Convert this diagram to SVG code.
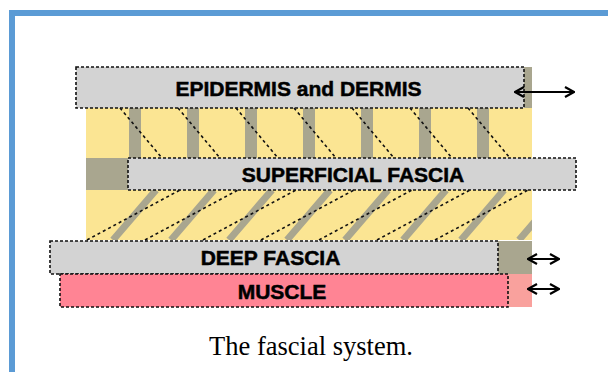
<svg xmlns="http://www.w3.org/2000/svg" width="608" height="372" viewBox="0 0 608 372">
<defs>
<style>
.box{fill:#d3d3d3;stroke:#111;stroke-width:1.6;stroke-dasharray:3 2}
.mus{fill:#ff8494;stroke:#111;stroke-width:1.6;stroke-dasharray:3 2}
.taupe{fill:#a9a68f}
.lbl{font-family:"Liberation Sans",Arial,sans-serif;font-weight:bold;font-size:21px;fill:#000;stroke:#000;stroke-width:0.5;text-anchor:middle}
.dl{stroke:#111;stroke-width:1.6;stroke-dasharray:3 3;fill:none}
.bar{stroke:#a9a68f;stroke-width:7}
.arr{stroke:#000;stroke-width:2;fill:none}
</style>
<marker id="ah" viewBox="0 0 12 12" refX="11" refY="6" markerWidth="12" markerHeight="12" markerUnits="userSpaceOnUse" orient="auto-start-reverse">
<path d="M2,1 L11,6 L2,11" fill="none" stroke="#000" stroke-width="2.2"/>
</marker>
<clipPath id="clipLow"><rect x="86" y="190" width="446" height="50"/></clipPath>
</defs>
<rect x="0" y="0" width="608" height="372" fill="#fff"/>
<rect x="12" y="13" width="620" height="400" fill="none" stroke="#5b9bd5" stroke-width="6"/>

<g id="subcutis">
<rect x="86" y="108" width="446" height="132" fill="#fbe593"/>
<g class="taupe">
<rect x="129" y="108" width="12" height="50"/>
<rect x="187" y="108" width="12" height="50"/>
<rect x="245" y="108" width="12" height="50"/>
<rect x="303" y="108" width="12" height="50"/>
<rect x="361" y="108" width="12" height="50"/>
<rect x="419" y="108" width="12" height="50"/>
<rect x="477" y="108" width="12" height="50"/>
</g>
<g clip-path="url(#clipLow)">
<path class="bar" d="M156,190 L113,240 M214,190 L171,240 M272,190 L229,240 M330,190 L287,240 M388,190 L345,240 M446,190 L403,240 M504,190 L461,240 M562,190 L519,240"/>
</g>
</g>

<g id="epidermis">
<rect class="taupe" x="524" y="67" width="8" height="41"/>
<rect class="box" x="76" y="67" width="448" height="41"/>
<text class="lbl" x="298.5" y="96">EPIDERMIS and DERMIS</text>
</g>

<g id="superficial-fascia">
<rect class="taupe" x="86" y="158" width="42" height="32"/>
<rect class="box" x="128" y="158" width="448" height="32"/>
<text class="lbl" x="353" y="182">SUPERFICIAL FASCIA</text>
</g>

<g id="deep-fascia">
<rect class="taupe" x="498" y="241" width="34" height="33"/>
<rect class="box" x="50" y="241" width="448" height="33"/>
<text class="lbl" x="270.5" y="265">DEEP FASCIA</text>
</g>

<g id="muscle">
<rect x="508" y="274" width="24" height="33" fill="#f9a19d"/>
<rect class="mus" x="60" y="274" width="448" height="33"/>
<text class="lbl" x="282" y="299">MUSCLE</text>
</g>

<g id="connectors">
<path class="dl" d="M120,108 L162,158 M178,108 L220,158 M236,108 L278,158 M294,108 L336,158 M352,108 L394,158 M410,108 L452,158 M468,108 L510,158"/>
<path class="dl" d="M87,240 L180,190 M145,240 L238,190 M203,240 L296,190 M261,240 L354,190 M319,240 L412,190 M377,240 L470,190 M435,240 L528,190"/>
<line class="arr" x1="515" y1="92" x2="574" y2="92" marker-start="url(#ah)" marker-end="url(#ah)"/>
<line class="arr" x1="528" y1="259" x2="559" y2="259" marker-start="url(#ah)" marker-end="url(#ah)"/>
<line class="arr" x1="528" y1="289" x2="559" y2="289" marker-start="url(#ah)" marker-end="url(#ah)"/>
</g>

<text x="311" y="355" font-family="'Liberation Serif','Times New Roman',serif" font-size="26.5" text-anchor="middle" fill="#000">The fascial system.</text>
</svg>
